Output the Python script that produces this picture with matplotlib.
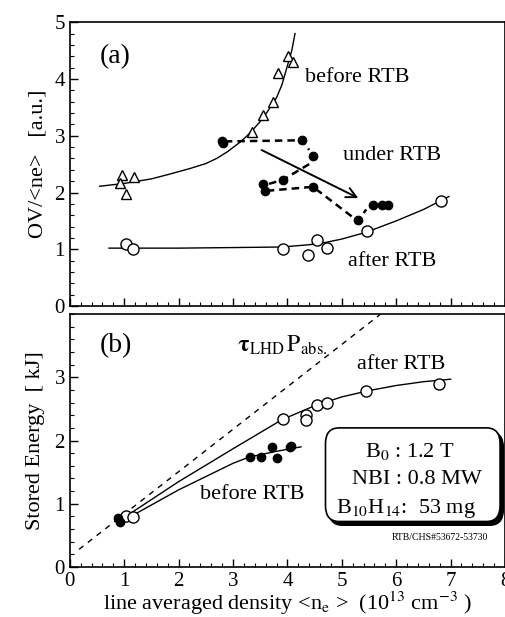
import numpy as np
import matplotlib
matplotlib.use('Agg')
import matplotlib.pyplot as plt
from matplotlib.patches import FancyBboxPatch
from matplotlib.ticker import MultipleLocator

plt.rcParams['font.family'] = ['Liberation Serif', 'DejaVu Serif']
plt.rcParams['mathtext.fontset'] = 'stix'
plt.rcParams['font.size'] = 15

# (a) OV/<ne>
tri_x = [0.96, 0.93, 1.18, 1.03, 3.34, 3.55, 3.74, 3.82, 4.02, 4.10]
tri_y = [2.30, 2.17, 2.27, 1.97, 3.07, 3.36, 3.60, 4.10, 4.40, 4.30]
fit_before_x = [0.55, 1.0, 1.5, 1.78, 2.2, 2.5, 2.7, 2.9, 3.12, 3.25, 3.37, 3.5, 3.6, 3.7, 3.8, 3.9, 3.99, 4.08, 4.14]
fit_before_y = [2.11, 2.16, 2.24, 2.31, 2.42, 2.51, 2.60, 2.72, 2.88, 2.99, 3.11, 3.25, 3.38, 3.52, 3.67, 3.90, 4.20, 4.50, 4.80]

ocir_x = [1.04, 1.17, 3.91, 4.37, 4.54, 4.72, 5.46, 6.82]
ocir_y = [1.10, 1.00, 1.00, 0.90, 1.17, 1.03, 1.32, 1.85]
fit_after_x = [0.72, 2.0, 3.0, 3.9, 4.4, 4.7, 5.0, 5.45, 6.0, 6.5, 6.97]
fit_after_y = [1.02, 1.02, 1.03, 1.04, 1.08, 1.12, 1.18, 1.30, 1.50, 1.70, 1.93]

under_x = [2.79, 2.82, 4.27, 4.47, 3.91, 3.55, 3.58, 4.47, 5.29, 5.57, 5.73, 5.85]
under_y = [2.90, 2.87, 2.92, 2.64, 2.22, 2.15, 2.02, 2.10, 1.52, 1.78, 1.78, 1.78]
path1_x = [2.85, 4.27, 4.40]
path1_y = [2.90, 2.92, 2.75]
path2_x = [4.40, 3.91, 3.65]
path2_y = [2.50, 2.22, 2.15]
path3_x = [3.62, 4.47, 5.29, 5.45]
path3_y = [2.03, 2.10, 1.50, 1.70]

# (b) stored energy
tau_x = [0.17, 5.70]
tau_y = [0.28, 3.99]
bo_x = [1.04, 1.16, 3.91, 4.34, 4.34, 4.54, 4.72, 5.44, 6.78]
bo_y = [0.80, 0.79, 2.34, 2.41, 2.33, 2.56, 2.59, 2.78, 2.90]
bafter_x = [1.10, 2.0, 3.0, 3.9, 4.5, 5.0, 5.5, 6.0, 6.5, 7.0]
bafter_y = [0.84, 1.35, 1.87, 2.33, 2.55, 2.69, 2.79, 2.87, 2.93, 2.97]
bf_x = [0.89, 0.92, 3.31, 3.52, 3.71, 3.80, 4.04, 4.07]
bf_y = [0.77, 0.71, 1.74, 1.74, 1.90, 1.73, 1.90, 1.91]
bbefore_x = [1.10, 2.0, 3.0, 3.3, 3.8, 4.25]
bbefore_y = [0.79, 1.22, 1.64, 1.74, 1.83, 1.90]

box_lines = [r'B$_0$ : 1.2 T', 'NBI : 0.8 MW', r'B$_{10}$H$_{14}$:  53 mg']
box_x = [5.42, 5.18, 4.89]
box_y = [1.82, 1.39, 0.93]

fig = plt.figure(figsize=(5.06, 6.17), dpi=100)
axa = fig.add_axes([0.138, 0.504, 0.860, 0.460])
axb = fig.add_axes([0.138, 0.081, 0.860, 0.410])

for ax in (axa, axb):
    ax.set_xlim(0, 8)
    ax.xaxis.set_major_locator(MultipleLocator(1))
    ax.xaxis.set_minor_locator(MultipleLocator(0.2))
    ax.yaxis.set_major_locator(MultipleLocator(1))
    ax.yaxis.set_minor_locator(MultipleLocator(0.2))
    ax.tick_params(which='both', direction='in', top=False, right=False, labelsize=15)
    ax.tick_params(which='major', length=6, width=1)
    ax.tick_params(which='minor', length=3, width=0.8)
    for s in ax.spines.values():
        s.set_linewidth(1.2)

# panel (a)
axa.set_ylim(0, 5)
axa.tick_params(labelbottom=False)
axa.plot(fit_before_x, fit_before_y, 'k-', lw=1)
axa.plot(fit_after_x, fit_after_y, 'k-', lw=1)
axa.plot(tri_x, tri_y, '^', mfc='white', mec='k', ms=7, mew=1)
axa.plot(ocir_x, ocir_y, 'o', mfc='white', mec='k', ms=8, mew=1)
for px, py in [(path1_x, path1_y), (path2_x, path2_y), (path3_x, path3_y)]:
    axa.plot(px, py, 'k--', lw=1.8, dashes=(3, 2))
axa.plot(under_x, under_y, 'o', color='k', ms=6)
axa.annotate('', xy=(5.35, 1.88), xytext=(3.48, 2.77),
             arrowprops=dict(arrowstyle='->', color='k', lw=1.4, mutation_scale=18))
axa.text(0.55, 4.4, '(a)', fontsize=20, va='center')
axa.text(4.32, 4.03, 'before RTB', fontsize=16, va='center')
axa.text(5.02, 2.66, 'under RTB', fontsize=16, va='center')
axa.text(5.11, 0.78, 'after RTB', fontsize=16, va='center')
axa.set_ylabel('OV/<ne>   [a.u.]', fontsize=16, labelpad=5)

# panel (b)
axb.set_ylim(0, 4)
axb.set_yticks([0, 1, 2, 3])
axb.plot(tau_x, tau_y, 'k--', lw=1, dashes=(4, 4))
axb.plot(bafter_x, bafter_y, 'k-', lw=1)
axb.plot(bbefore_x, bbefore_y, 'k-', lw=1)
axb.plot(bo_x, bo_y, 'o', mfc='white', mec='k', ms=8, mew=1)
axb.plot(bf_x, bf_y, 'o', color='k', ms=6)
axb.text(0.55, 3.5, '(b)', fontsize=20, va='center')
axb.text(3.07, 3.5, r'$\mathbf{\tau}_{\rm LHD}\,\mathrm{P}_{\rm abs.}$', fontsize=17, va='center')
axb.text(5.28, 3.2, 'after RTB', fontsize=16, va='center')
axb.text(2.4, 1.14, 'before RTB', fontsize=16, va='center')

shadow = FancyBboxPatch((4.76, 0.66), 3.21, 1.48, boxstyle='round,pad=0,rounding_size=0.25',
                        fc='k', ec='k', lw=1, zorder=3)
box = FancyBboxPatch((4.70, 0.72), 3.21, 1.48, boxstyle='round,pad=0,rounding_size=0.25',
                     fc='white', ec='k', lw=1.2, zorder=4)
axb.add_patch(shadow)
axb.add_patch(box)
for t, xx, yy in zip(box_lines, box_x, box_y):
    axb.text(xx, yy, t, ha='left', va='center', fontsize=16, zorder=5)
axb.text(7.68, 0.46, 'RTB/CHS#53672-53730', ha='right', va='center', fontsize=7)

axb.set_ylabel('Stored Energy  [ kJ]', fontsize=16, labelpad=7)
axb.set_xlabel(r'line averaged density <n$_{\rm e}$ >  (10$^{13}$ cm$^{-3}$ )', fontsize=16, labelpad=-1)

fig.savefig('out.png', dpi=100)
